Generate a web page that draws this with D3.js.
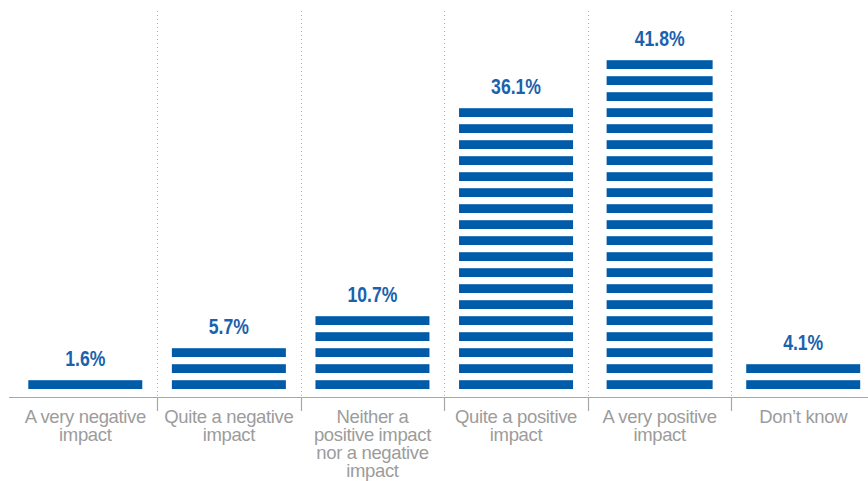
<!DOCTYPE html>
<html><head><meta charset="utf-8">
<script src="https://cdn.jsdelivr.net/npm/d3@7"></script>
<style>html,body{margin:0;padding:0;background:#fff;}svg{display:block;}</style>
</head><body>
<svg id="chart" width="868" height="481"></svg>
<script>
const categories = ["A very negative|impact","Quite a negative|impact","Neither a|positive impact|nor a negative|impact","Quite a positive|impact","A very positive|impact","Don\u2019t know"];
const values = [1.6, 5.7, 10.7, 36.1, 41.8, 4.1];
const valueLabels = ["1.6%","5.7%","10.7%","36.1%","41.8%","4.1%"];
const stripeStep = 2; // each stripe represents 2%

const svg = d3.select("#chart");
const W = 868, H = 481;
const baseY = 397;
const x = d3.scaleBand().domain(d3.range(categories.length)).range([13.5, 875]).padding(0);
const y = d3.scaleLinear().domain([0, 50]).range([baseY, baseY - 400]);

// dotted separators
const seps = d3.range(1, categories.length);
svg.selectAll("line.grid").data(seps).enter().append("line")
  .attr("x1", d => Math.round(x(d)) + 0.5).attr("x2", d => Math.round(x(d)) + 0.5)
  .attr("y1", 11).attr("y2", baseY)
  .attr("stroke", "#b0b0b0").attr("stroke-width", 1).attr("stroke-dasharray", "1,3");

// axis line
svg.append("line").attr("x1", 9).attr("x2", W).attr("y1", baseY + 0.5).attr("y2", baseY + 0.5)
  .attr("stroke", "#a8a8a8").attr("stroke-width", 1.2);
// ticks
svg.selectAll("line.tick").data(seps).enter().append("line")
  .attr("x1", d => Math.round(x(d)) + 0.5).attr("x2", d => Math.round(x(d)) + 0.5)
  .attr("y1", baseY).attr("y2", baseY + 14)
  .attr("stroke", "#a8a8a8").attr("stroke-width", 1.2);

// striped bars
values.forEach((v, i) => {
  const n = Math.round(v / stripeStep);
  const bw = i === 4 ? 106 : 114;
  const cx = x(i) + x.bandwidth() / 2;
  const g = svg.append("g");
  g.selectAll("rect").data(d3.range(n)).enter().append("rect")
    .attr("x", cx - bw / 2)
    .attr("width", bw)
    .attr("y", k => y(k * stripeStep + 2.1))
    .attr("height", k => y(k * stripeStep + 1.0) - y(k * stripeStep + 2.1))
    .attr("fill", "#005ca9");
  const topY = y((n - 1) * stripeStep + 2.1);
  svg.append("text")
    .attr("transform", `translate(${cx},${topY - 14.5}) scale(0.8,1)`)
    .attr("text-anchor", "middle")
    .attr("font-family", "'Liberation Sans',Arial,sans-serif")
    .attr("font-weight", "bold").attr("font-size", 22)
    .attr("fill", "#1a62ad")
    .text(valueLabels[i]);
});

// category labels
categories.forEach((c, i) => {
  const cx = x(i) + x.bandwidth() / 2;
  const t = svg.append("text")
    .attr("text-anchor", "middle")
    .attr("font-family", "'Liberation Sans',Arial,sans-serif")
    .attr("font-size", 18.5).attr("letter-spacing", -0.35)
    .attr("fill", "#9c9c9c");
  c.split("|").forEach((line, k) => {
    t.append("tspan").attr("x", cx).attr("y", 423.3 + k * 17.8).text(line);
  });
});
</script>
</body></html>
